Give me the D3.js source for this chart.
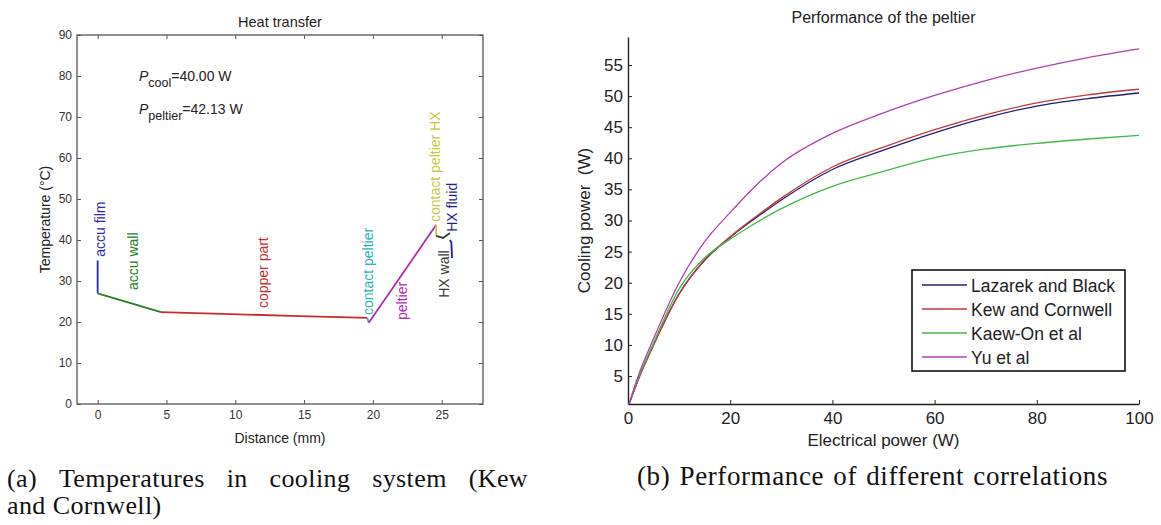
<!DOCTYPE html>
<html>
<head>
<meta charset="utf-8">
<script src="https://cdn.jsdelivr.net/npm/d3@7"></script>
<style>
  body { margin: 0; background: #fff; }
  svg { display: block; background: #fff; }
  text { font-family: "Liberation Sans", Arial, sans-serif; fill: #222; }
  .cap { font-family: "Liberation Serif", "Times New Roman", serif; font-size: 26px; fill: #111; letter-spacing: 0.4px; }
  .capb { font-size: 27px; letter-spacing: 0.6px; }
</style>
</head>
<body>
<svg id="fig" width="1161" height="525"></svg>
<script>
// ---- (a) temperature profile through the cooling stack ----
let segNames = ["accu film", "accu wall", "copper part", "contact peltier", "peltier",
                "contact peltier HX", "HX wall", "HX fluid"];
let segDist = [[0, 0], [0, 4.6], [4.6, 9, 14, 19.6], [19.6, 19.7], [19.7, 24.6],
               [24.6, 24.6], [24.6, 25.1, 25.6], [25.6, 25.7, 25.75]];
let segTemp = [[35, 27], [27, 22.4], [22.4, 22, 21.5, 21], [21, 19.8], [19.8, 43.7],
               [43.7, 41], [41, 40.5, 41.7], [40, 39.4, 35.6]];
// where matlab put the text() labels (data units)
let labelDist = [0.5, 2.9, 12.4, 20.0, 22.5, 24.9, 25.5, 26.1];
let labelTemp = [35.9, 27.8, 23.4, 21.7, 20.5, 44.4, 25.9, 42];
let segColors = ["#2a2ab0", "#238023", "#cc2a2a", "#2ab4b4", "#b02ab0", "#c8c83a", "#3a3a3a", "#1e1e96"];
let distTicks = [0, 5, 10, 15, 20, 25];
let tempTicks = [0, 10, 20, 30, 40, 50, 60, 70, 80, 90];
let pCool = "40.00", pPeltier = "42.13";

// ---- (b) cooling power vs electrical power ----
let elecPower = [0, 2, 5, 10, 15, 20, 25, 30, 40, 50, 60, 70, 80, 90, 100];
let seriesNames = ["Lazarek and Black", "Kew and Cornwell", "Kaew-On et al", "Yu et al"];
let lazarek = [0, 4.4, 10, 18.2, 23.6, 27.3, 30.4, 33.3, 38.2, 41.3, 44.1, 46.5, 48.4, 49.6, 50.5];
let kew     = [0, 4.4, 10, 18.2, 23.7, 27.4, 30.6, 33.6, 38.6, 41.8, 44.6, 47.0, 48.9, 50.2, 51.1];
let kaewOn  = [0, 4.6, 10.3, 19, 24, 27, 29.6, 31.9, 35.5, 37.9, 40.1, 41.5, 42.4, 43.1, 43.7];
let yu      = [0, 5, 11, 20, 26.6, 31.3, 35.6, 39.2, 44, 47.3, 50.1, 52.5, 54.5, 56.2, 57.6];
let seriesColors = ["#202070", "#c03a3a", "#44b844", "#b040b0"];
let powerTicks = [0, 20, 40, 60, 80, 100];
let coolTicks = [5, 10, 15, 20, 25, 30, 35, 40, 45, 50, 55];

let svg = d3.select("#fig");

// ================= left panel =================
let xL = d3.scaleLinear().domain([-1.5, 28]).range([77, 483]);
let yL = d3.scaleLinear().domain([0, 90]).range([404, 35]);

let left = svg.append("g");

function styleAxis(g, size) {
    g.select(".domain").remove();
    g.selectAll(".tick line").attr("stroke", "#555");
    g.selectAll(".tick text").style("font-size", size + "px").style("fill", "#333");
}

left.append("g")
    .attr("transform", "translate(0," + yL(0) + ")")
    .call(d3.axisBottom(xL).tickValues(distTicks).tickSizeInner(-4).tickSizeOuter(0).tickPadding(6))
    .call(g => styleAxis(g, 12));
left.append("g")
    .attr("transform", "translate(0," + yL(90) + ")")
    .call(d3.axisTop(xL).tickValues(distTicks).tickSizeInner(-4).tickSizeOuter(0).tickFormat(""))
    .call(g => styleAxis(g, 12));
left.append("g")
    .attr("transform", "translate(" + xL(-1.5) + ",0)")
    .call(d3.axisLeft(yL).tickValues(tempTicks).tickSizeInner(-4).tickSizeOuter(0).tickPadding(5))
    .call(g => styleAxis(g, 12));
left.append("g")
    .attr("transform", "translate(" + xL(28) + ",0)")
    .call(d3.axisRight(yL).tickValues(tempTicks).tickSizeInner(-4).tickSizeOuter(0).tickFormat(""))
    .call(g => styleAxis(g, 12));

left.append("rect")
    .attr("x", xL(-1.5)).attr("y", yL(90))
    .attr("width", xL(28) - xL(-1.5)).attr("height", yL(0) - yL(90))
    .attr("fill", "none").attr("stroke", "#555").attr("stroke-width", 1.3);

let lineL = d3.line().x(d => xL(d[0])).y(d => yL(d[1]));
left.selectAll("path.seg")
    .data(segNames.map((n, i) => d3.zip(segDist[i], segTemp[i])))
    .enter()
    .append("path")
    .attr("class", "seg")
    .attr("d", lineL)
    .attr("fill", "none")
    .attr("stroke", (d, i) => segColors[i])
    .attr("stroke-width", 1.8);

left.selectAll("text.seglab")
    .data(segNames)
    .enter()
    .append("text")
    .attr("class", "seglab")
    .attr("transform", (d, i) => "translate(" + xL(labelDist[i]) + "," + yL(labelTemp[i]) + ") rotate(-90)")
    .style("font-size", "14px")
    .style("fill", (d, i) => segColors[i])
    .text(d => d);

// P annotations
let pLabels = [["cool", pCool, 80], ["peltier", pPeltier, 72]];
pLabels.forEach(p => {
    let t = left.append("text")
        .attr("x", xL(3))
        .attr("y", yL(p[2]) + 5)
        .style("font-size", "14px");
    t.append("tspan").style("font-style", "italic").text("P");
    t.append("tspan").attr("dy", 6).style("font-size", "12.5px").text(p[0]);
    t.append("tspan").attr("dy", -6).text("=" + p[1] + " W");
});

left.append("text")
    .attr("x", (xL(-1.5) + xL(28)) / 2).attr("y", 27)
    .attr("text-anchor", "middle")
    .style("font-size", "14.5px")
    .text("Heat transfer");
left.append("text")
    .attr("x", (xL(-1.5) + xL(28)) / 2).attr("y", 443)
    .attr("text-anchor", "middle")
    .style("font-size", "14px")
    .text("Distance (mm)");
left.append("text")
    .attr("transform", "translate(50," + (yL(0) + yL(90)) / 2 + ") rotate(-90)")
    .attr("text-anchor", "middle")
    .style("font-size", "14px")
    .text("Temperature (°C)");

// ================= right panel =================
let xR = d3.scaleLinear().domain([0, 100]).range([628, 1139]);
let yR = d3.scaleLinear().domain([0.5, 59.5]).range([404, 37]);

let right = svg.append("g");

right.append("g")
    .attr("transform", "translate(0," + yR(0.5) + ")")
    .call(d3.axisBottom(xR).tickValues(powerTicks).tickSizeInner(-4).tickSizeOuter(0).tickPadding(8))
    .call(g => {
        g.select(".domain").attr("stroke", "#222").attr("stroke-width", 1.4);
        g.selectAll(".tick line").attr("stroke", "#222");
        g.selectAll(".tick text").style("font-size", "17px").style("fill", "#222");
    });
right.append("g")
    .attr("transform", "translate(" + xR(0) + ",0)")
    .call(d3.axisLeft(yR).tickValues(coolTicks).tickSizeInner(-4).tickSizeOuter(0).tickPadding(5))
    .call(g => {
        g.select(".domain").attr("stroke", "#222").attr("stroke-width", 1.4);
        g.selectAll(".tick line").attr("stroke", "#222");
        g.selectAll(".tick text").style("font-size", "17px").style("fill", "#222");
    });

svg.append("clipPath").attr("id", "clipR")
    .append("rect")
    .attr("x", xR(0)).attr("y", yR(59.5))
    .attr("width", xR(100) - xR(0) + 2).attr("height", yR(0.5) - yR(59.5));

let allSeries = [lazarek, kew, kaewOn, yu];
let lineR = d3.line()
    .x((d, i) => xR(elecPower[i]))
    .y(d => yR(d))
    .curve(d3.curveMonotoneX);

right.append("g")
    .attr("clip-path", "url(#clipR)")
    .selectAll("path")
    .data(allSeries)
    .enter()
    .append("path")
    .attr("d", lineR)
    .attr("fill", "none")
    .attr("stroke", (d, i) => seriesColors[i])
    .attr("stroke-width", 1.3);

// legend
let legend = right.append("g").attr("transform", "translate(912,270)");
legend.append("rect")
    .attr("width", 213).attr("height", 101)
    .attr("fill", "#fff").attr("stroke", "#111").attr("stroke-width", 1.6);
let items = legend.selectAll("g.item")
    .data(seriesNames)
    .enter()
    .append("g")
    .attr("class", "item")
    .attr("transform", (d, i) => "translate(0," + (15 + i * 24) + ")");
items.append("line")
    .attr("x1", 10).attr("x2", 55)
    .attr("stroke", (d, i) => seriesColors[i])
    .attr("stroke-width", 1.3);
items.append("text")
    .attr("x", 59).attr("y", 6.5)
    .style("font-size", "17.5px")
    .text(d => d);

right.append("text")
    .attr("x", (xR(0) + xR(100)) / 2).attr("y", 23)
    .attr("text-anchor", "middle")
    .style("font-size", "16px")
    .text("Performance of the peltier");
right.append("text")
    .attr("x", (xR(0) + xR(100)) / 2).attr("y", 446)
    .attr("text-anchor", "middle")
    .style("font-size", "17px")
    .text("Electrical power (W)");
right.append("text")
    .attr("transform", "translate(590," + (yR(0.5) + yR(59.5)) / 2 + ") rotate(-90)")
    .attr("text-anchor", "middle")
    .style("font-size", "17px")
    .style("white-space", "pre")
    .text("Cooling power  (W)");

// ================= captions =================
function justifyLine(words, x0, x1, y, cls) {
    let g = svg.append("g");
    let nodes = words.map(w => g.append("text").attr("class", cls).attr("y", y).text(w));
    let widths = nodes.map(n => n.node().getComputedTextLength());
    let gap = (x1 - x0 - d3.sum(widths)) / (words.length - 1);
    let x = x0;
    nodes.forEach((n, i) => { n.attr("x", x); x += widths[i] + gap; });
}
justifyLine(["(a)", "Temperatures", "in", "cooling", "system", "(Kew"], 7, 528, 487, "cap");
svg.append("text").attr("class", "cap").attr("x", 7).attr("y", 514)
    .text("and Cornwell)");
justifyLine(["(b)", "Performance", "of", "different", "correlations"], 637, 1108, 485, "cap capb");
</script>
</body>
</html>
